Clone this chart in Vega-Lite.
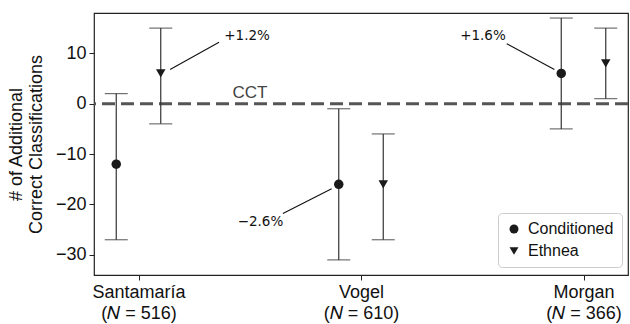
{
  "$schema": "https://vega.github.io/schema/vega-lite/v6.json",
  "width": 534,
  "height": 262,
  "autosize": {"type": "none"},
  "padding": {"left": 94, "top": 13, "right": 2, "bottom": 49},
  "config": {
    "view": {"stroke": "#222", "strokeWidth": 1.2},
    "font": "Liberation Sans",
    "axis": {"grid": false, "domain": false, "tickColor": "#222", "tickSize": 5, "labelColor": "#111", "titleColor": "#111", "labelFont": "Liberation Sans", "titleFont": "Liberation Sans"}
  },
  "datasets": {
    "est": [
      {"dataset": "Santamaría", "method": "Conditioned", "x": -0.1, "mean": -12, "lo": -27, "hi": 2},
      {"dataset": "Santamaría", "method": "Ethnea", "x": 0.1, "mean": 6, "lo": -4, "hi": 15},
      {"dataset": "Vogel", "method": "Conditioned", "x": 0.9, "mean": -16, "lo": -31, "hi": -1},
      {"dataset": "Vogel", "method": "Ethnea", "x": 1.1, "mean": -16, "lo": -27, "hi": -6},
      {"dataset": "Morgan", "method": "Conditioned", "x": 1.9, "mean": 6, "lo": -5, "hi": 17},
      {"dataset": "Morgan", "method": "Ethnea", "x": 2.1, "mean": 8, "lo": 1, "hi": 15}
    ],
    "notes": [
      {"label": "+1.2%", "tx": 0.488, "ty": 13.4, "x1": 0.362, "y1": 12.2, "x2": 0.142, "y2": 6.8},
      {"label": "+1.6%", "tx": 1.548, "ty": 13.4, "x1": 1.655, "y1": 11.9, "x2": 1.869, "y2": 6.8},
      {"label": "−2.6%", "tx": 0.548, "ty": -23.5, "x1": 0.649, "y1": -21.8, "x2": 0.868, "y2": -16.9}
    ]
  },
  "layer": [
    {
      "data": {"values": [{"y": 0}]},
      "mark": {"type": "rule", "color": "#555", "strokeWidth": 3, "strokeDash": [13, 6]},
      "encoding": {"y": {"field": "y", "type": "quantitative", "scale": {"domain": [-34, 18], "nice": false, "zero": false}}}
    },
    {
      "data": {"values": [{"t": "CCT", "x": 0.501, "y": 2.2}]},
      "mark": {"type": "text", "fontSize": 17, "color": "#444", "font": "Liberation Sans"},
      "encoding": {
        "x": {"field": "x", "type": "quantitative"},
        "y": {"field": "y", "type": "quantitative"},
        "text": {"field": "t"}
      }
    },
    {
      "data": {"name": "est"},
      "mark": {"type": "rule", "color": "#333", "strokeWidth": 1.2},
      "encoding": {
        "x": {"field": "x", "type": "quantitative"},
        "y": {"field": "lo", "type": "quantitative"},
        "y2": {"field": "hi"}
      }
    },
    {
      "data": {"name": "est"},
      "mark": {"type": "tick", "orient": "horizontal", "color": "#333", "thickness": 1.2, "size": 23},
      "encoding": {
        "x": {"field": "x", "type": "quantitative"},
        "y": {"field": "lo", "type": "quantitative"}
      }
    },
    {
      "data": {"name": "est"},
      "mark": {"type": "tick", "orient": "horizontal", "color": "#333", "thickness": 1.2, "size": 23},
      "encoding": {
        "x": {"field": "x", "type": "quantitative"},
        "y": {"field": "hi", "type": "quantitative"}
      }
    },
    {
      "data": {"name": "est"},
      "mark": {"type": "point", "filled": true, "opacity": 1, "color": "#1a1a1a", "size": 90},
      "encoding": {
        "x": {"field": "x", "type": "quantitative", "scale": {"domain": [-0.2, 2.2], "nice": false, "zero": false},
          "axis": {"values": [0, 1, 2], "title": null, "labelFontSize": 18, "labelLineHeight": 21, "labelPadding": 3,
            "labelExpr": "datum.value == 0 ? ['Santamaría', '(𝑁 = 516)'] : datum.value == 1 ? ['Vogel', '(𝑁 = 610)'] : ['Morgan', '(𝑁 = 366)']"}},
        "y": {"field": "mean", "type": "quantitative",
          "axis": {"values": [-30, -20, -10, 0, 10], "title": ["# of Additional", "Correct Classifications"], "titleFontSize": 18, "titleFontWeight": "normal", "titleLineHeight": 20, "titlePadding": 10, "labelFontSize": 18, "labelPadding": 3}},
        "shape": {"field": "method", "type": "nominal",
          "scale": {"domain": ["Conditioned", "Ethnea"], "range": ["circle", "triangle-down"]},
          "legend": {"title": null, "orient": "none", "legendX": 404, "legendY": 200, "labelFontSize": 16, "labelFont": "Liberation Sans", "labelColor": "#111", "symbolSize": 80, "symbolFillColor": "#1a1a1a", "symbolStrokeColor": "#1a1a1a", "symbolType": "circle", "padding": 8, "rowPadding": 6, "strokeColor": "#ccc", "fillColor": "white", "cornerRadius": 4, "labelOffset": 6}}
      }
    },
    {
      "data": {"name": "notes"},
      "mark": {"type": "rule", "color": "#111", "strokeWidth": 1.1},
      "encoding": {
        "x": {"field": "x1", "type": "quantitative"},
        "y": {"field": "y1", "type": "quantitative"},
        "x2": {"field": "x2"},
        "y2": {"field": "y2"}
      }
    },
    {
      "data": {"name": "notes"},
      "mark": {"type": "text", "fontSize": 13.5, "font": "DejaVu Sans", "color": "#111"},
      "encoding": {
        "x": {"field": "tx", "type": "quantitative"},
        "y": {"field": "ty", "type": "quantitative"},
        "text": {"field": "label"}
      }
    }
  ]
}
